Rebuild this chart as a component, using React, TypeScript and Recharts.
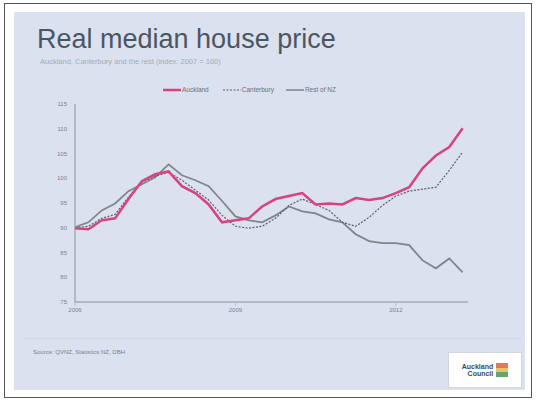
import React from "react";
import { LineChart, Line, XAxis, YAxis } from "recharts";

const years = [
  2006.0, 2006.25, 2006.5, 2006.75, 2007.0, 2007.25, 2007.5, 2007.75,
  2008.0, 2008.25, 2008.5, 2008.75, 2009.0, 2009.25, 2009.5, 2009.75,
  2010.0, 2010.25, 2010.5, 2010.75, 2011.0, 2011.25, 2011.5, 2011.75,
  2012.0, 2012.25, 2012.5, 2012.75, 2013.0, 2013.25,
];
const auckland = [
  89.9, 89.7, 91.5, 91.9, 95.8, 99.4, 100.8, 101.4,
  98.4, 97.0, 94.7, 91.1, 91.5, 91.9, 94.3, 95.8,
  96.4, 97.0, 94.7, 94.9, 94.7, 96.0, 95.6, 96.0,
  97.0, 98.2, 102.0, 104.6, 106.3, 110.1,
];
const canterbury = [
  90.0, 90.3, 91.9, 92.7, 96.2, 99.2, 100.4, 101.2,
  99.6, 97.6, 95.6, 92.5, 90.3, 89.9, 90.3, 91.9,
  94.5, 95.8, 94.7, 93.5, 91.1, 90.3, 92.1, 94.5,
  96.4, 97.4, 97.8, 98.2, 101.6, 105.3,
];
const restOfNZ = [
  90.1, 91.1, 93.5, 94.9, 97.4, 98.8, 100.2, 102.8,
  100.6, 99.6, 98.4, 95.4, 92.3, 91.5, 91.1, 92.5,
  94.3, 93.3, 92.9, 91.7, 91.1, 88.7, 87.3, 86.9,
  86.9, 86.5, 83.4, 81.8, 83.8, 81.0,
];
const yTicks = [75, 80, 85, 90, 95, 100, 105, 110, 115];
const xTicks = [2006, 2009, 2012];
const seriesNames = ["Auckland", "Canterbury", "Rest of NZ"];

const data = years.map((t, i) => ({
  t,
  auckland: auckland[i],
  canterbury: canterbury[i],
  rest: restOfNZ[i],
}));

const PINK = "#d8427f";
const DASH = "#5a6066";
const GREY = "#7d8788";
const FONT = "Arial, 'Liberation Sans', sans-serif";

export default function App() {
  return (
    <div
      style={{
        position: "absolute",
        left: 0,
        top: 0,
        width: 540,
        height: 405,
        background: "#ffffff",
        fontFamily: FONT,
        overflow: "hidden",
      }}
    >
      <div
        style={{
          position: "absolute",
          left: 4,
          top: 3,
          width: 528,
          height: 395,
          border: "1px solid #555",
          boxSizing: "border-box",
        }}
      />
      <div
        style={{
          position: "absolute",
          left: 14,
          top: 12,
          width: 511,
          height: 378,
          background: "#dbe1ee",
        }}
      />
      <div
        style={{
          position: "absolute",
          left: 37,
          top: 24,
          fontSize: 27,
          color: "#4b5663",
          whiteSpace: "nowrap",
        }}
      >
        Real median house price
      </div>
      <div
        style={{
          position: "absolute",
          left: 40,
          top: 57,
          fontSize: 7.5,
          color: "#a3abb8",
          whiteSpace: "nowrap",
        }}
      >
        Auckland, Canterbury and the rest (index: 2007 = 100)
      </div>
      <div
        style={{
          position: "absolute",
          left: 163,
          top: 86,
          display: "flex",
          alignItems: "center",
          fontSize: 6.5,
          color: "#6a7280",
          whiteSpace: "nowrap",
        }}
      >
        <svg width={18} height={6}>
          <line x1={0} y1={3} x2={18} y2={3} stroke={PINK} strokeWidth={2.5} />
        </svg>
        <span style={{ marginLeft: 1, marginRight: 14 }}>{seriesNames[0]}</span>
        <svg width={18} height={6}>
          <line x1={0} y1={3} x2={18} y2={3} stroke={DASH} strokeWidth={1.2} strokeDasharray="2 1.5" />
        </svg>
        <span style={{ marginLeft: 1, marginRight: 12 }}>{seriesNames[1]}</span>
        <svg width={18} height={6}>
          <line x1={0} y1={3} x2={18} y2={3} stroke={GREY} strokeWidth={1.5} />
        </svg>
        <span style={{ marginLeft: 1 }}>{seriesNames[2]}</span>
      </div>
      <div style={{ position: "absolute", left: 0, top: 0 }}>
        <LineChart
          width={540}
          height={405}
          data={data}
          margin={{ top: 104, right: 72, bottom: 83, left: 45 }}
        >
          <XAxis
            dataKey="t"
            type="number"
            domain={[2006, 2013.35]}
            ticks={xTicks}
            tick={{ fontSize: 6, fill: "#7a828e", fontFamily: FONT }}
            tickLine={{ stroke: "#b5bcc8" }}
            tickSize={4}
            axisLine={{ stroke: "#8a929c" }}
            height={20}
            allowDataOverflow
          />
          <YAxis
            type="number"
            domain={[75, 115]}
            ticks={yTicks}
            tick={{ fontSize: 6, fill: "#7a828e", fontFamily: FONT }}
            tickLine={false}
            axisLine={{ stroke: "#8a929c" }}
            width={30}
            interval={0}
          />
          <Line
            dataKey="rest"
            stroke={GREY}
            strokeWidth={1.8}
            dot={false}
            type="linear"
            isAnimationActive={false}
          />
          <Line
            dataKey="canterbury"
            stroke={DASH}
            strokeWidth={1.2}
            strokeDasharray="2 1.5"
            dot={false}
            type="linear"
            isAnimationActive={false}
          />
          <Line
            dataKey="auckland"
            stroke={PINK}
            strokeWidth={2.5}
            dot={false}
            type="linear"
            isAnimationActive={false}
          />
        </LineChart>
      </div>
      <div
        style={{
          position: "absolute",
          left: 22,
          top: 338,
          width: 500,
          height: 1,
          background: "#d2d8e4",
        }}
      />
      <div
        style={{
          position: "absolute",
          left: 33,
          top: 349,
          fontSize: 6,
          color: "#7a828e",
          whiteSpace: "nowrap",
        }}
      >
        Source: QVNZ, Statistics NZ, DBH
      </div>
      <div
        style={{
          position: "absolute",
          left: 448,
          top: 352,
          width: 74,
          height: 36,
          background: "#ffffff",
          border: "1px solid #d0d5de",
          boxSizing: "border-box",
          display: "flex",
          alignItems: "center",
          justifyContent: "center",
        }}
      >
        <div
          style={{
            fontSize: 7,
            lineHeight: "7px",
            color: "#3d4a5a",
            textAlign: "right",
            fontWeight: 700,
            marginRight: 3,
          }}
        >
          Auckland
          <br />
          Council
        </div>
        <svg width={12} height={14}>
          <rect x={0} y={0} width={12} height={5} fill="#e07b5a" />
          <rect x={0} y={5} width={12} height={4} fill="#e9c46a" />
          <rect x={0} y={9} width={12} height={5} fill="#6aa36f" />
        </svg>
      </div>
    </div>
  );
}
